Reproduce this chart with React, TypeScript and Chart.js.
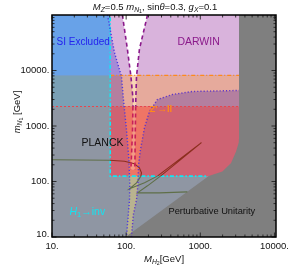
import { useEffect, useRef } from 'react';
import { Chart, registerables } from 'chart.js';

Chart.register(...registerables);

// ---------------- data (M_H2 [GeV], m_N1 [GeV]) ----------------
const X_MIN = 10;
const X_MAX = 10500;
const Y_MIN = 10;
const Y_MAX = 100000;

const X_TICKS = [10, 100, 1000, 10000];
const X_TICK_LABELS = ['10.', '100.', '1000.', '10000.'];
const Y_TICKS = [10, 100, 1000, 10000];
const Y_TICK_LABELS = ['10.', '100.', '1000.', '10000.'];

const H1_INV_MH2 = 61; // vertical cyan boundary
const H1_INV_MN1 = 125; // horizontal cyan boundary
const H1_INV_END_MH2 = 1220;
const ZLL_FUTURE_MN1 = 8150; // orange dash-dot
const ZLL_MN1 = 2245; // red dotted
const UNITARITY_EDGE_MH2 = 3330;

// Planck relic band boundaries (dotted)
const PLANCK_LEFT = [
  [56, 100000], [69.5, 21200], [86.5, 7820], [92, 3000], [101, 861],
  [109, 247], [112, 87], [111, 46.7], [101, 10],
];
const PLANCK_RIGHT = [
  [118, 10], [125, 25], [138, 46.7], [144, 87], [147, 200], [156, 374],
  [177, 935], [206, 1820], [264, 3000], [421, 3700], [783, 4190], [3330, 4370],
];

// DARWIN reach boundaries (dashed)
const DARWIN_LEFT = [[89, 100000], [104, 24100], [116, 7820], [124, 3000], [122, 861], [116, 163]];
const DARWIN_RIGHT = [[194, 100000], [151, 24100], [138, 7820], [135, 3000], [133, 861], [131, 163]];

// Perturbative unitarity excluded region
const UNITARITY = [
  [3330, 100000], [3330, 600], [3296, 501], [3035, 348], [2600, 215],
  [1987, 152], [1300, 125], [98, 10], [10500, 10], [10500, 100000],
];

// relic density contour
const RELIC_CONTOUR = [
  [10, 247], [60, 242], [95, 232], [129, 209], [151, 177], [161, 144], [158, 125],
  [138, 94.6], [111, 73.8], [177, 94.6], [264, 125], [1036, 501], [290, 125],
  [194, 83.6], [142, 62.5], [281, 62.5], [670, 65.1],
];

// ---------------- styling ----------------
const FAM = "'Liberation Sans', Arial, Helvetica, sans-serif";
const C = {
  gray: '#8f96a3',
  steel: '#7aa0b5',
  blue: '#68a2e8',
  violet: '#a58bd6',
  mauve: '#b47f9f',
  red: '#cf6272',
  lavender: '#d9b3dc',
  salmon: '#e6aa9c',
  bandRed: '#ef7565',
  tan: '#b9b38f',
  white: '#ffffff',
  cream: '#f9d6b6',
  wedgeRed: '#f39a86',
  unit: '#7f7f7f',
};

type P = number[];
const L = (p: P) => [Math.log10(p[0]), Math.log10(p[1])];

function clipHalf(pts: P[], keep: (p: P) => boolean, cut: (a: P, b: P) => P) {
  const out: P[] = [];
  for (let i = 0; i < pts.length; i++) {
    const cur = pts[i];
    const prev = pts[(i + pts.length - 1) % pts.length];
    const ci = keep(cur);
    const pi = keep(prev);
    if (ci) {
      if (!pi) out.push(cut(prev, cur));
      out.push(cur);
    } else if (pi) out.push(cut(prev, cur));
  }
  return out;
}
const cutY = (v: number) => (a: P, b: P) => {
  const t = (v - a[1]) / (b[1] - a[1]);
  return [a[0] + t * (b[0] - a[0]), v];
};
const cutX = (v: number) => (a: P, b: P) => {
  const t = (v - a[0]) / (b[0] - a[0]);
  return [v, a[1] + t * (b[1] - a[1])];
};
function clipPoly(poly: P[], yLo: number, yHi: number, xLo: number) {
  let pts = poly.map(L);
  const lo = Math.log10(yLo), hi = Math.log10(yHi), xl = Math.log10(xLo);
  pts = clipHalf(pts, (p) => p[1] >= lo, cutY(lo));
  pts = clipHalf(pts, (p) => p[1] <= hi, cutY(hi));
  pts = clipHalf(pts, (p) => p[0] >= xl, cutX(xl));
  return pts.map((p) => [10 ** p[0], 10 ** p[1]]);
}
function withBreakY(pts: P[], v: number) {
  const out: P[] = [];
  const lv = Math.log10(v);
  for (let i = 0; i < pts.length; i++) {
    if (i > 0) {
      const a = L(pts[i - 1]), b = L(pts[i]);
      if ((a[1] - lv) * (b[1] - lv) < 0) {
        const c = cutY(lv)(a, b);
        out.push([10 ** c[0], 10 ** c[1]]);
      }
    }
    out.push(pts[i]);
  }
  return out;
}
const box = (x0: number, x1: number, y0: number, y1: number) => [[x0, y0], [x1, y0], [x1, y1], [x0, y1]];

const toXY = (pts: P[]) => pts.map((p) => ({ x: p[0], y: p[1] }));
const poly = (pts: P[], color: string) => ({
  data: toXY(pts), backgroundColor: color, borderColor: 'rgba(0,0,0,0)', borderWidth: 0,
  fill: 'shape', pointRadius: 0, showLine: true, tension: 0,
});
const line = (pts: P[], color: string, width: number, dash: number[], extra: any = {}) => ({
  data: toXY(pts), borderColor: color, borderWidth: width, borderDash: dash,
  fill: false, pointRadius: 0, showLine: true, tension: 0, ...extra,
});

type Part = { t: string; it?: boolean; sub?: number; b?: boolean };
function fontFor(p: Part, size: number) {
  const s = size * (p.sub === 1 ? 0.72 : p.sub === 2 ? 0.55 : 1);
  return `${p.it ? 'italic ' : ''}${p.b ? 'bold ' : ''}${s}px ${FAM}`;
}
function richWidth(ctx: CanvasRenderingContext2D, parts: Part[], size: number) {
  let w = 0;
  for (const p of parts) {
    ctx.font = fontFor(p, size);
    w += ctx.measureText(p.t).width;
  }
  return w;
}
function drawRich(ctx: CanvasRenderingContext2D, parts: Part[], x: number, y: number, size: number, color: string, align: string) {
  const w = richWidth(ctx, parts, size);
  let cx = align === 'center' ? x - w / 2 : align === 'right' ? x - w : x;
  ctx.fillStyle = color;
  ctx.textAlign = 'left';
  ctx.textBaseline = 'middle';
  for (const p of parts) {
    ctx.font = fontFor(p, size);
    const dy = p.sub === 1 ? size * 0.3 : p.sub === 2 ? size * 0.5 : 0;
    ctx.fillText(p.t, cx, y + dy);
    cx += ctx.measureText(p.t).width;
  }
}

const LABELS: { parts: Part[]; x: number; y: number; size: number; color: string }[] = [
  { parts: [{ t: 'SI Excluded' }], x: 11.5, y: 32200, size: 10, color: '#2424ee' },
  { parts: [{ t: 'DARWIN' }], x: 491, y: 32200, size: 10.5, color: '#8b1a8b' },
  { parts: [{ t: 'PLANCK' }], x: 25, y: 501, size: 10.5, color: '#111111' },
  { parts: [{ t: "Z'→ll", b: true }], x: 206, y: 1980, size: 9.5, color: '#ff8a1a' },
  { parts: [{ t: 'H', it: true }, { t: '1', sub: 1 }, { t: '→inv' }], x: 17.2, y: 28.3, size: 10.5, color: '#12e4f2' },
  { parts: [{ t: 'Perturbative Unitarity' }], x: 372, y: 28.3, size: 9.3, color: '#111111' },
];

const TITLE: Part[] = [
  { t: 'M', it: true }, { t: 'Z', it: true, sub: 1 }, { t: '=0.5 ' }, { t: 'm', it: true },
  { t: 'N', it: true, sub: 1 }, { t: '1', sub: 2 }, { t: ', sin' }, { t: 'θ', it: true },
  { t: '=0.3, ' }, { t: 'g', it: true }, { t: 'X', it: true, sub: 1 }, { t: '=0.1' },
];
const X_TITLE: Part[] = [{ t: 'M', it: true }, { t: 'H', it: true, sub: 1 }, { t: '2', sub: 2 }, { t: '[GeV]' }];
const Y_TITLE: Part[] = [{ t: 'm', it: true }, { t: 'N', it: true, sub: 1 }, { t: '1', sub: 2 }, { t: ' [GeV]' }];

const framePlugin = {
  id: 'frame',
  beforeDraw(chart: any) {
    const { ctx, width, height } = chart;
    ctx.save();
    ctx.fillStyle = '#ffffff';
    ctx.fillRect(0, 0, width, height);
    ctx.restore();
  },
  afterDraw(chart: any) {
    const { ctx, chartArea: a, scales, width, height } = chart;
    const xs = scales.x, ys = scales.y;
    ctx.save();
    // white-out everything outside the plot frame
    ctx.fillStyle = '#ffffff';
    ctx.fillRect(0, 0, width, a.top);
    ctx.fillRect(0, a.bottom, width, height - a.bottom);
    ctx.fillRect(0, 0, a.left, height);
    ctx.fillRect(a.right, 0, width - a.right, height);
    for (const lb of LABELS) {
      drawRich(ctx, lb.parts, xs.getPixelForValue(lb.x), ys.getPixelForValue(lb.y), lb.size, lb.color, 'left');
    }
    ctx.strokeStyle = '#222';
    ctx.lineWidth = 0.9;
    const tick = (x0: number, y0: number, x1: number, y1: number) => {
      ctx.beginPath(); ctx.moveTo(x0, y0); ctx.lineTo(x1, y1); ctx.stroke();
    };
    for (const d of [10, 100, 1000]) {
      for (let m = 1; m <= 9; m++) {
        const px = xs.getPixelForValue(m * d);
        const len = m === 1 ? 4.5 : 2.5;
        tick(px, a.bottom, px, a.bottom - len);
        tick(px, a.top, px, a.top + len);
      }
    }
    {
      const px = xs.getPixelForValue(10000);
      tick(px, a.bottom, px, a.bottom - 4.5);
      tick(px, a.top, px, a.top + 4.5);
    }
    for (const d of [10, 100, 1000, 10000]) {
      for (let m = 1; m <= 9; m++) {
        const py = ys.getPixelForValue(m * d);
        const len = m === 1 ? 4.5 : 2.5;
        tick(a.left, py, a.left + len, py);
        tick(a.right, py, a.right - len, py);
      }
    }
    ctx.strokeStyle = '#000';
    ctx.lineWidth = 1.5;
    ctx.strokeRect(a.left, a.top, a.right - a.left, a.bottom - a.top);
    ctx.fillStyle = '#111';
    ctx.font = `9.5px ${FAM}`;
    ctx.textBaseline = 'middle';
    ctx.textAlign = 'center';
    X_TICKS.forEach((v, i) => ctx.fillText(X_TICK_LABELS[i], xs.getPixelForValue(v), a.bottom + 9.5));
    ctx.textAlign = 'right';
    Y_TICKS.forEach((v, i) => ctx.fillText(Y_TICK_LABELS[i], a.left - 2.5, ys.getPixelForValue(v) - (i === 0 ? 3 : 0)));
    drawRich(ctx, TITLE, 155, 7, 9.5, '#111', 'center');
    drawRich(ctx, X_TITLE, (a.left + a.right) / 2, a.bottom + 22, 9.5, '#111', 'center');
    ctx.translate(17, 112);
    ctx.rotate(-Math.PI / 2);
    drawRich(ctx, Y_TITLE, 0, 0, 9.5, '#111', 'center');
    ctx.restore();
  },
};

export default function App() {
  const ref = useRef<HTMLCanvasElement | null>(null);
  useEffect(() => {
    document.body.style.margin = '0';
    const band = [...PLANCK_LEFT, ...PLANCK_RIGHT, [UNITARITY_EDGE_MH2, Y_MAX * 2]];
    const wedge = [...DARWIN_LEFT, ...[...DARWIN_RIGHT].reverse()];
    const layers: any[] = [
      poly(box(1, X_MAX * 2, 1, Y_MAX * 2), C.gray),
      poly(box(1, H1_INV_MH2, ZLL_MN1, ZLL_FUTURE_MN1), C.steel),
      poly(box(1, H1_INV_MH2, ZLL_FUTURE_MN1, Y_MAX * 2), C.blue),
      poly(box(H1_INV_MH2, X_MAX * 2, ZLL_FUTURE_MN1, Y_MAX * 2), C.violet),
      poly(box(H1_INV_MH2, X_MAX * 2, ZLL_MN1, ZLL_FUTURE_MN1), C.mauve),
      poly(box(H1_INV_MH2, X_MAX * 2, H1_INV_MN1, ZLL_MN1), C.red),
      poly(clipPoly(band, ZLL_FUTURE_MN1, Y_MAX * 2, H1_INV_MH2), C.lavender),
      poly(clipPoly(band, ZLL_MN1, ZLL_FUTURE_MN1, H1_INV_MH2), C.salmon),
      poly(clipPoly(band, H1_INV_MN1, ZLL_MN1, H1_INV_MH2), C.bandRed),
      poly(clipPoly(band, 1, H1_INV_MN1, H1_INV_MH2), C.tan),
      poly(clipPoly(wedge, ZLL_FUTURE_MN1, Y_MAX * 2, 1), C.white),
      poly(clipPoly(wedge, ZLL_MN1, ZLL_FUTURE_MN1, 1), C.cream),
      poly(clipPoly(wedge, 1, ZLL_MN1, 1), C.wedgeRed),
      poly(UNITARITY, C.unit),
      line([[X_MIN, ZLL_MN1], [UNITARITY_EDGE_MH2, ZLL_MN1]], '#e8454d', 1.2, [2, 2]),
      line([[H1_INV_MH2, ZLL_FUTURE_MN1], [UNITARITY_EDGE_MH2, ZLL_FUTURE_MN1]], '#ff8a1a', 1.2, [4, 2, 1, 2]),
      line([[H1_INV_MH2, Y_MAX * 2], [H1_INV_MH2, H1_INV_MN1], [H1_INV_END_MH2, H1_INV_MN1]], '#10e8f4', 1.6, [4, 2, 1.5, 2]),
      line(RELIC_CONTOUR, '#5f6f48', 1.1, [], {
        segment: {
          borderColor: (c: any) => {
            const mx = Math.sqrt(c.p0.parsed.x * c.p1.parsed.x);
            const my = Math.sqrt(c.p0.parsed.y * c.p1.parsed.y);
            return mx > H1_INV_MH2 && my > H1_INV_MN1 ? '#8c2e1e' : '#5f6f48';
          },
        },
      }),
      line(PLANCK_LEFT, '#4a3ae0', 1.4, [1.2, 2]),
      line(PLANCK_RIGHT, '#5f36c8', 1.4, [1.2, 2]),
      ...[DARWIN_LEFT, DARWIN_RIGHT].map((d) =>
        line(withBreakY(d, ZLL_MN1), '#8b1a8b', 1.6, [4, 3], {
          segment: {
            borderColor: (c: any) =>
              Math.sqrt(c.p0.parsed.y * c.p1.parsed.y) < ZLL_MN1 ? '#c8205a' : '#8b1a8b',
          },
        })
      ),
    ];
    const n = layers.length;
    layers.forEach((l, i) => (l.order = n - i));
    const chart = new Chart(ref.current as HTMLCanvasElement, {
      type: 'scatter',
      data: { datasets: layers },
      options: {
        responsive: false,
        animation: false,
        devicePixelRatio: 1,
        layout: { padding: { left: 52, right: 15, top: 15, bottom: 34 } },
        plugins: { legend: { display: false }, tooltip: { enabled: false }, title: { display: false } },
        scales: {
          x: { type: 'logarithmic', min: X_MIN, max: X_MAX, display: false },
          y: { type: 'logarithmic', min: Y_MIN, max: Y_MAX, display: false },
        },
        events: [],
      } as any,
      plugins: [framePlugin],
    });
    return () => chart.destroy();
  }, []);
  return (
    <div style={{ width: 291, height: 271, background: '#fff' }}>
      <canvas ref={ref} width={291} height={271} style={{ display: 'block' }} />
    </div>
  );
}
